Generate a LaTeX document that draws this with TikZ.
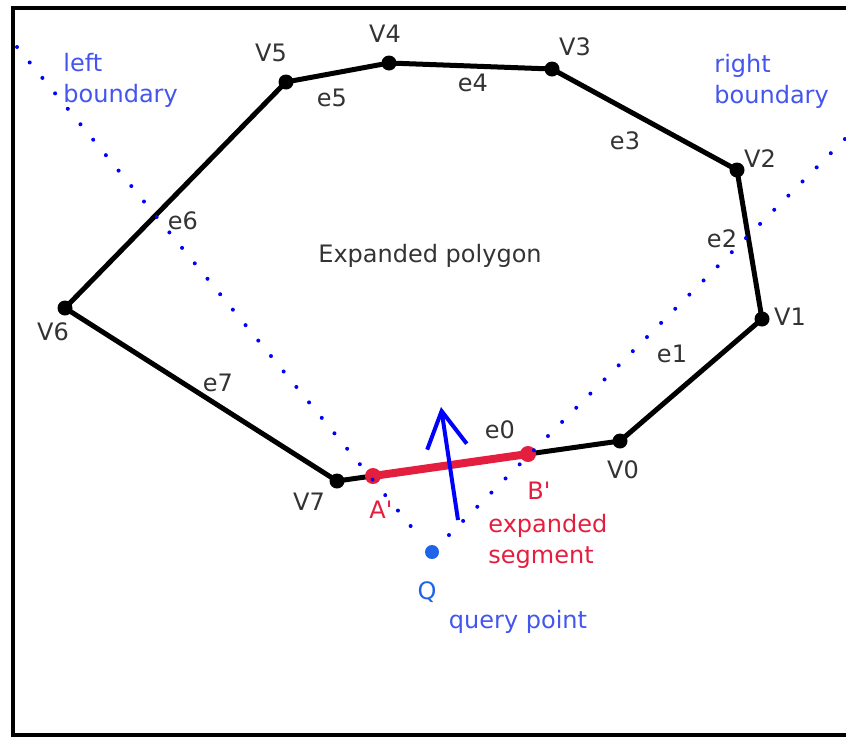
\documentclass[tikz,border=0pt]{standalone}
\usepackage{fontspec}
\setmainfont{DejaVu Sans}[Ligatures=TeXOff]
\usetikzlibrary{arrows.meta}
\definecolor{segred}{RGB}{228,30,62}
\definecolor{lblue}{RGB}{68,85,238}
\definecolor{qblue}{RGB}{30,100,232}
\begin{document}
\begin{tikzpicture}[
    x=0.5pt, y=-0.5pt,
    lbl/.style={font=\fontsize{12}{15.5}\selectfont, text=black!80, inner sep=0pt},
    bluelbl/.style={lbl, text=lblue, align=left},
    redlbl/.style={lbl, text=segred, align=left},
    edge/.style={line width=2.5pt, line join=round},
    vdot/.style={circle, fill=black, inner sep=0pt, minimum size=7.5pt},
    rdot/.style={circle, fill=segred, inner sep=0pt, minimum size=8pt},
    bound/.style={blue, line width=2pt, line cap=round, dash pattern=on 0pt off 10pt},
]
\useasboundingbox (0,0) rectangle (846,740);
% Frame (open on the right)
\draw[line width=2pt] (846,8) -- (13,8) -- (13,735) -- (846,735);

% Vertices
\foreach \n/\x/\y in {0/620/441, 1/762/319, 2/737/170, 3/552/69,
                      4/389/63, 5/286/82, 6/65/308, 7/337/481} {
  \coordinate (V\n) at (\x,\y);
}
\draw[edge] (V0) -- (V1) -- (V2) -- (V3) -- (V4) -- (V5) -- (V6) -- (V7) -- cycle;
\foreach \n in {0,...,7} {
  \node[vdot] (dV\n) at (V\n) {};
}

% Vertex labels
\foreach \n/\x/\y in {0/623/470, 1/790/317, 2/760/159, 3/575/47,
                      4/385/34, 5/271/53, 6/53/332, 7/309/502} {
  \node[lbl] (labV\n) at (\x,\y) {V\n};
}
% Edge labels
\foreach \n/\x/\y in {0/500/430, 1/672/354, 2/722/239, 3/625/141,
                      4/473/83, 5/332/98, 6/183/221, 7/218/383} {
  \node[lbl] (labe\n) at (\x,\y) {e\n};
}
\node[lbl] (title) at (430,256) {Expanded polygon};

% Expanded segment
\coordinate (A) at (373,476);
\coordinate (B) at (528,454);
\draw[segred, line width=4pt] (A) -- (B);
\node[rdot] (dA) at (A) {};
\node[rdot] (dB) at (B) {};
\node[redlbl] (labA) at (381,510) {A'};
\node[redlbl] (labB) at (539,491) {B'};
\node[redlbl, anchor=west] (labseg) at (488,541) {expanded\\segment};

% Query point and its boundaries
\coordinate (Q) at (432,552);
\coordinate (lb) at (17,47);
\coordinate (rb) at (846,138);
\draw[bound, shorten >=7pt] (lb) -- (Q);
\draw[bound, shorten <=12pt] (Q) -- (rb);
\node[circle, fill=qblue, inner sep=0pt, minimum size=7pt] (dQ) at (Q) {};
\node[bluelbl, text=qblue] (labQ) at (427,592) {Q};
\node[bluelbl] (labq) at (518,622) {query point};
\node[bluelbl, anchor=west] (labl) at (63,80) {left\\boundary};
\node[bluelbl, anchor=west] (labr) at (714,81) {right\\boundary};

% Direction arrow
\coordinate (ar0) at (458,520);
\coordinate (ar1) at (441,407);
\draw[blue, line width=2pt, -{Straight Barb[length=18pt, width=20pt, line width=2pt]}] (ar0) -- (ar1);
\end{tikzpicture}
\end{document}
